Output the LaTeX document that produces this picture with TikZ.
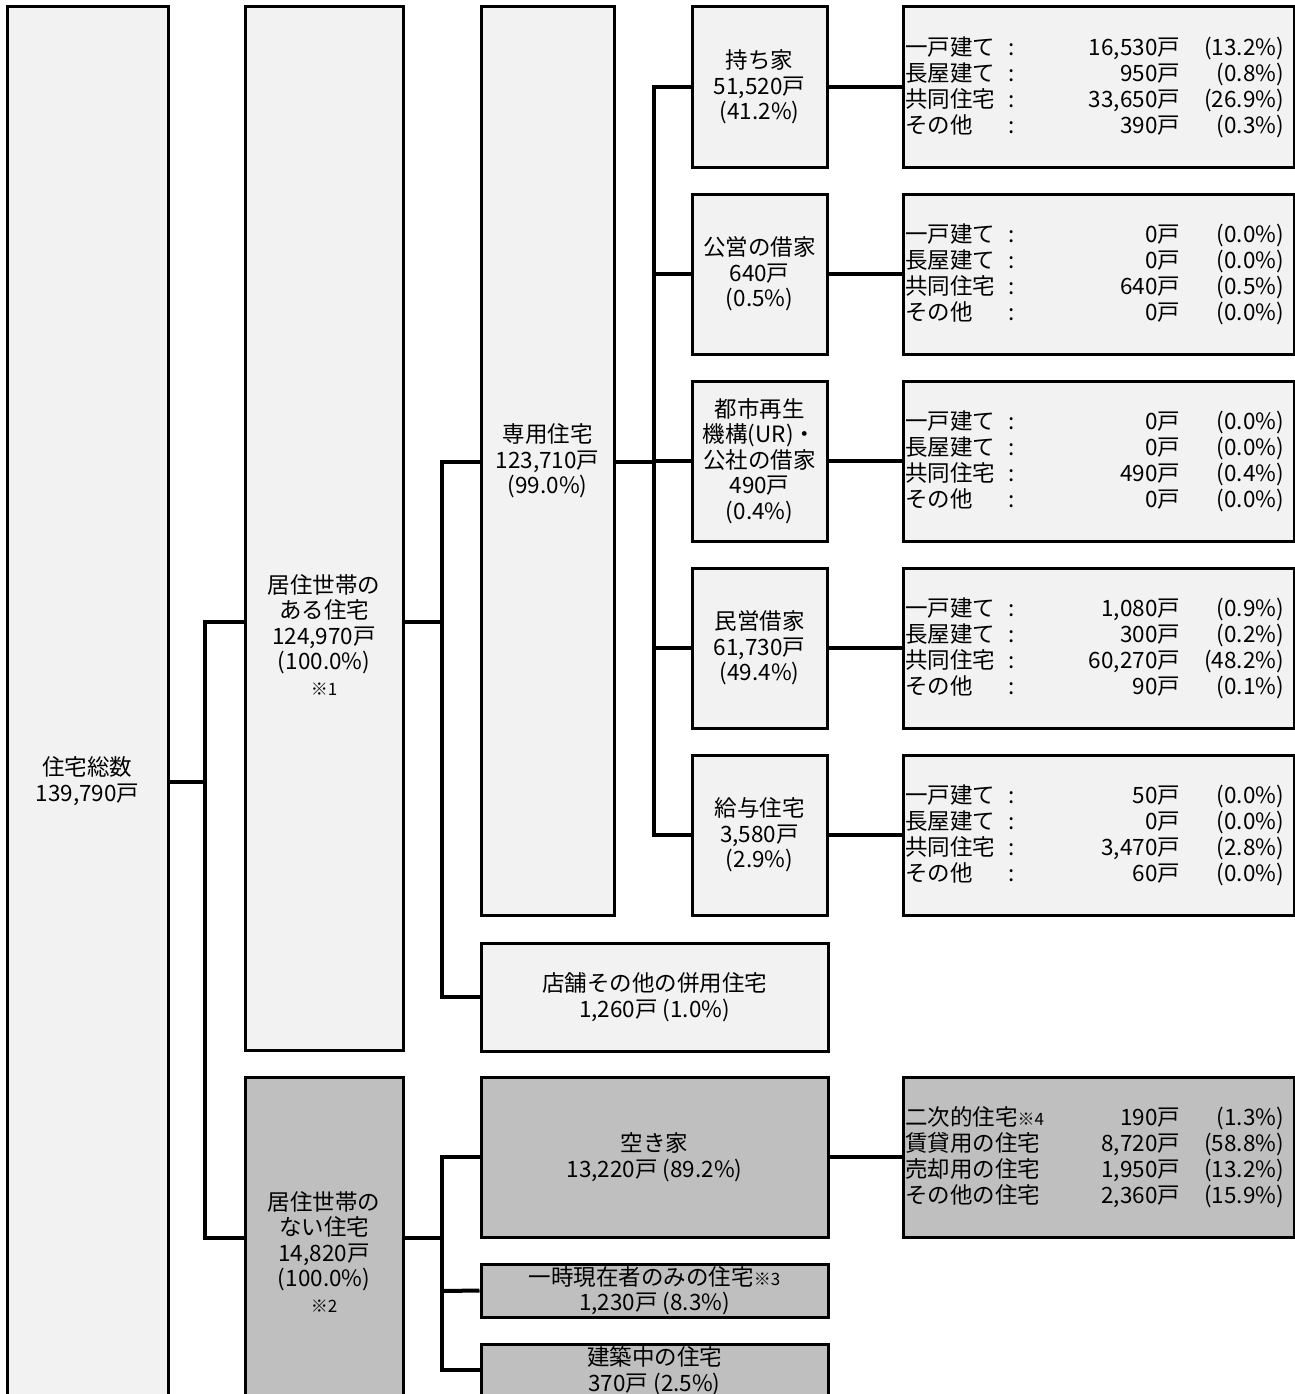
\documentclass[tikz,border=0pt]{standalone}
\usepackage{fontspec}
\setmainfont{Noto Sans CJK JP}
\definecolor{lightfill}{HTML}{F2F2F2}
\definecolor{grayfill}{HTML}{BFBFBF}
\newcommand{\drow}[3]{\makebox[95pt][l]{#1}\makebox[24pt][c]{:}\makebox[156pt][r]{#2}\makebox[104pt][r]{#3}}
\newcommand{\vrow}[3]{\makebox[175pt][l]{#1}\makebox[100pt][r]{#2}\makebox[104pt][r]{#3}}
\newcommand{\smnote}[1]{{\fontsize{17}{17}\selectfont #1}}
\begin{document}
\begin{tikzpicture}[x=1pt,y=-1pt,
  every node/.style={font=\fontsize{22.5}{25.5}\selectfont, inner sep=0pt},
  boxl/.style={draw=black, line width=3pt, fill=lightfill, align=center},
  boxg/.style={draw=black, line width=3pt, fill=grayfill, align=center},
  conn/.style={draw=black, line width=4pt},
  mid/.style={boxl, minimum width=135pt, minimum height=160pt},
  det/.style={boxl, minimum width=391pt, minimum height=160pt, text width=387pt, align=left, font=\fontsize{22.5}{26}\selectfont},
  detg/.style={det, fill=grayfill}]
\useasboundingbox (0,0) rectangle (1295,1394);
\clip (0,0) rectangle (1295,1394);
% level 0
\node[boxl, minimum width=161pt, minimum height=1393pt] (root) at (87.5,703.5) {};
\node[align=center] (roottxt) at (87.5,781) {住宅総数\\139,790戸};
% level 1
\node[boxl, minimum width=158pt, minimum height=1043pt] (A) at (324,528.5) {};
\node[align=center] (Atxt) at (324,635) {居住世帯の\\ある住宅\\124,970戸\\(100.0\%)\\\smnote{※1}};
\node[boxg, minimum width=158pt, minimum height=343pt] (B) at (324,1248.5) {};
\node[align=center] (Btxt) at (324,1252) {居住世帯の\\ない住宅\\14,820戸\\(100.0\%)\\\smnote{※2}};
% level 2
\node[boxl, minimum width=133pt, minimum height=908pt] (S) at (547.5,461) {専用住宅\\123,710戸\\(99.0\%)};
\node[boxl, minimum width=347pt, minimum height=108pt] (T) at (654.5,997) {店舗その他の併用住宅\\1,260戸 (1.0\%)};
\node[boxg, minimum width=347pt, minimum height=160pt] (V) at (654.5,1157) {空き家\\13,220戸 (89.2\%)};
\node[boxg, minimum width=347pt, minimum height=53pt] (I) at (654.5,1290.5) {一時現在者のみの住宅\smnote{※3}\\1,230戸 (8.3\%)};
\node[boxg, minimum width=347pt, minimum height=54pt] (K) at (654.5,1371) {建築中の住宅\\370戸 (2.5\%)};
% level 3
\node[mid] (M1) at (759.5,87) {持ち家\\51,520戸\\(41.2\%)};
\node[mid] (M2) at (759.5,274) {公営の借家\\640戸\\(0.5\%)};
\node[mid] (M3) at (759.5,461) {都市再生\\機構(UR)・\\公社の借家\\490戸\\(0.4\%)};
\node[mid] (M4) at (759.5,648) {民営借家\\61,730戸\\(49.4\%)};
\node[mid] (M5) at (759.5,835) {給与住宅\\3,580戸\\(2.9\%)};
% details
\node[det] (D1) at (1098.5,87) {\drow{一戸建て}{16,530戸}{(13.2\%)}\\\drow{長屋建て}{950戸}{(0.8\%)}\\\drow{共同住宅}{33,650戸}{(26.9\%)}\\\drow{その他}{390戸}{(0.3\%)}};
\node[det] (D2) at (1098.5,274) {\drow{一戸建て}{0戸}{(0.0\%)}\\\drow{長屋建て}{0戸}{(0.0\%)}\\\drow{共同住宅}{640戸}{(0.5\%)}\\\drow{その他}{0戸}{(0.0\%)}};
\node[det] (D3) at (1098.5,461) {\drow{一戸建て}{0戸}{(0.0\%)}\\\drow{長屋建て}{0戸}{(0.0\%)}\\\drow{共同住宅}{490戸}{(0.4\%)}\\\drow{その他}{0戸}{(0.0\%)}};
\node[det] (D4) at (1098.5,648) {\drow{一戸建て}{1,080戸}{(0.9\%)}\\\drow{長屋建て}{300戸}{(0.2\%)}\\\drow{共同住宅}{60,270戸}{(48.2\%)}\\\drow{その他}{90戸}{(0.1\%)}};
\node[det] (D5) at (1098.5,835) {\drow{一戸建て}{50戸}{(0.0\%)}\\\drow{長屋建て}{0戸}{(0.0\%)}\\\drow{共同住宅}{3,470戸}{(2.8\%)}\\\drow{その他}{60戸}{(0.0\%)}};
\node[detg] (DV) at (1098.5,1157) {\vrow{二次的住宅\smnote{※4}}{190戸}{(1.3\%)}\\\vrow{賃貸用の住宅}{8,720戸}{(58.8\%)}\\\vrow{売却用の住宅}{1,950戸}{(13.2\%)}\\\vrow{その他の住宅}{2,360戸}{(15.9\%)}};
% connectors
\draw[conn] (root.east |- 0,782) -- (205,782);
\draw[conn] (A.west |- 0,622) -- (205,622) -- (205,1238) -- (B.west |- 0,1238);
\draw[conn] (A.east |- 0,622) -- (442,622);
\draw[conn] (S.west |- 0,462) -- (442,462) -- (442,997) -- (T.west);
\draw[conn] (B.east |- 0,1238) -- (442,1238);
\draw[conn] (V.west) -- (442,1157) -- (442,1370) -- (K.west |- 0,1370);
\draw[conn] (442,1291) -- (I.west);
\draw[conn] (S.east |- 0,462) -- (654,462);
\draw[conn] (M1.west) -- (654,87) -- (654,835) -- (M5.west);
\draw[conn] (654,274) -- (M2.west);
\draw[conn] (654,461) -- (M3.west);
\draw[conn] (654,648) -- (M4.west);
\draw[conn] (M1.east) -- (D1.west);
\draw[conn] (M2.east) -- (D2.west);
\draw[conn] (M3.east) -- (D3.west);
\draw[conn] (M4.east) -- (D4.west);
\draw[conn] (M5.east) -- (D5.west);
\draw[conn] (V.east) -- (DV.west);
\end{tikzpicture}
\end{document}
